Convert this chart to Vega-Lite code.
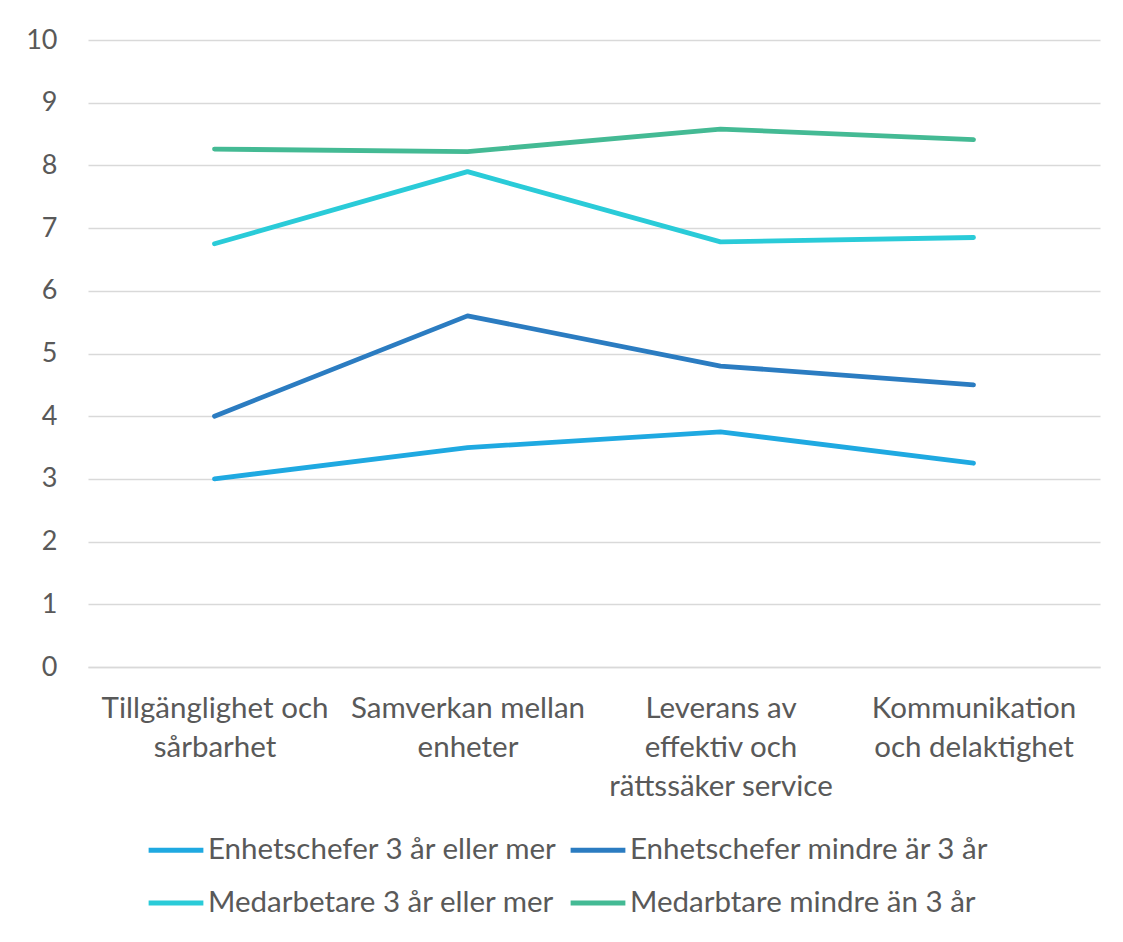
{
  "$schema": "https://vega.github.io/schema/vega-lite/v6.json",
  "width": 1012,
  "height": 627,
  "autosize": "none",
  "padding": {"left": 88, "top": 40, "right": 23, "bottom": 275},
  "background": "white",
  "config": {
    "font": "Lato",
    "view": {"stroke": null}
  },
  "data": {
    "values": [
      {"omrade": "Tillgänglighet och sårbarhet", "grupp": "Enhetschefer 3 år eller mer", "varde": 3.0},
      {"omrade": "Samverkan mellan enheter", "grupp": "Enhetschefer 3 år eller mer", "varde": 3.5},
      {"omrade": "Leverans av effektiv och rättssäker service", "grupp": "Enhetschefer 3 år eller mer", "varde": 3.75},
      {"omrade": "Kommunikation och delaktighet", "grupp": "Enhetschefer 3 år eller mer", "varde": 3.25},
      {"omrade": "Tillgänglighet och sårbarhet", "grupp": "Enhetschefer mindre är 3 år", "varde": 4.0},
      {"omrade": "Samverkan mellan enheter", "grupp": "Enhetschefer mindre är 3 år", "varde": 5.6},
      {"omrade": "Leverans av effektiv och rättssäker service", "grupp": "Enhetschefer mindre är 3 år", "varde": 4.8},
      {"omrade": "Kommunikation och delaktighet", "grupp": "Enhetschefer mindre är 3 år", "varde": 4.5},
      {"omrade": "Tillgänglighet och sårbarhet", "grupp": "Medarbetare 3 år eller mer", "varde": 6.75},
      {"omrade": "Samverkan mellan enheter", "grupp": "Medarbetare 3 år eller mer", "varde": 7.9},
      {"omrade": "Leverans av effektiv och rättssäker service", "grupp": "Medarbetare 3 år eller mer", "varde": 6.78},
      {"omrade": "Kommunikation och delaktighet", "grupp": "Medarbetare 3 år eller mer", "varde": 6.85},
      {"omrade": "Tillgänglighet och sårbarhet", "grupp": "Medarbtare mindre än 3 år", "varde": 8.26},
      {"omrade": "Samverkan mellan enheter", "grupp": "Medarbtare mindre än 3 år", "varde": 8.22},
      {"omrade": "Leverans av effektiv och rättssäker service", "grupp": "Medarbtare mindre än 3 år", "varde": 8.58},
      {"omrade": "Kommunikation och delaktighet", "grupp": "Medarbtare mindre än 3 år", "varde": 8.41}
    ]
  },
  "mark": {"type": "line", "strokeWidth": 4.8, "strokeCap": "round", "strokeJoin": "round"},
  "encoding": {
    "x": {
      "field": "omrade",
      "type": "nominal",
      "sort": ["Tillgänglighet och sårbarhet", "Samverkan mellan enheter", "Leverans av effektiv och rättssäker service", "Kommunikation och delaktighet"],
      "scale": {"paddingInner": 0, "paddingOuter": 0},
      "axis": {
        "title": null,
        "labelAngle": 0,
        "labelAlign": "center",
        "labelBaseline": "top",
        "labelFontSize": 29.5,
        "labelColor": "#595959",
        "labelLineHeight": 39,
        "labelPadding": 27,
        "labelLimit": 300,
        "domain": true,
        "domainColor": "#d9d9d9",
        "domainWidth": 1.5,
        "ticks": false,
        "grid": false,
        "labelExpr": "datum.value == 'Tillgänglighet och sårbarhet' ? ['Tillgänglighet och', 'sårbarhet'] : datum.value == 'Samverkan mellan enheter' ? ['Samverkan mellan', 'enheter'] : datum.value == 'Leverans av effektiv och rättssäker service' ? ['Leverans av', 'effektiv och', 'rättssäker service'] : ['Kommunikation', 'och delaktighet']"
      }
    },
    "y": {
      "field": "varde",
      "type": "quantitative",
      "scale": {"domain": [0, 10], "nice": false},
      "axis": {
        "title": null,
        "values": [0, 1, 2, 3, 4, 5, 6, 7, 8, 9, 10],
        "labelFontSize": 27,
        "labelColor": "#595959",
        "labelPadding": 31,
        "domain": false,
        "ticks": false,
        "grid": true,
        "gridColor": "#d9d9d9",
        "gridWidth": 1.5
      }
    },
    "color": {
      "field": "grupp",
      "type": "nominal",
      "sort": ["Enhetschefer 3 år eller mer", "Enhetschefer mindre är 3 år", "Medarbetare 3 år eller mer", "Medarbtare mindre än 3 år"],
      "scale": {
        "domain": ["Enhetschefer 3 år eller mer", "Enhetschefer mindre är 3 år", "Medarbetare 3 år eller mer", "Medarbtare mindre än 3 år"],
        "range": ["#1fa9e1", "#2b7cc1", "#2acbd8", "#44ba94"]
      },
      "legend": {
        "title": null,
        "orient": "none",
        "legendX": 58,
        "legendY": 780,
        "direction": "horizontal",
        "columns": 2,
        "symbolType": "stroke",
        "symbolSize": 3000,
        "symbolStrokeWidth": 4.8,
        "labelFontSize": 29.5,
        "labelColor": "#595959",
        "labelLimit": 500,
        "labelOffset": 2,
        "rowPadding": 8,
        "columnPadding": 3
      }
    }
  }
}
